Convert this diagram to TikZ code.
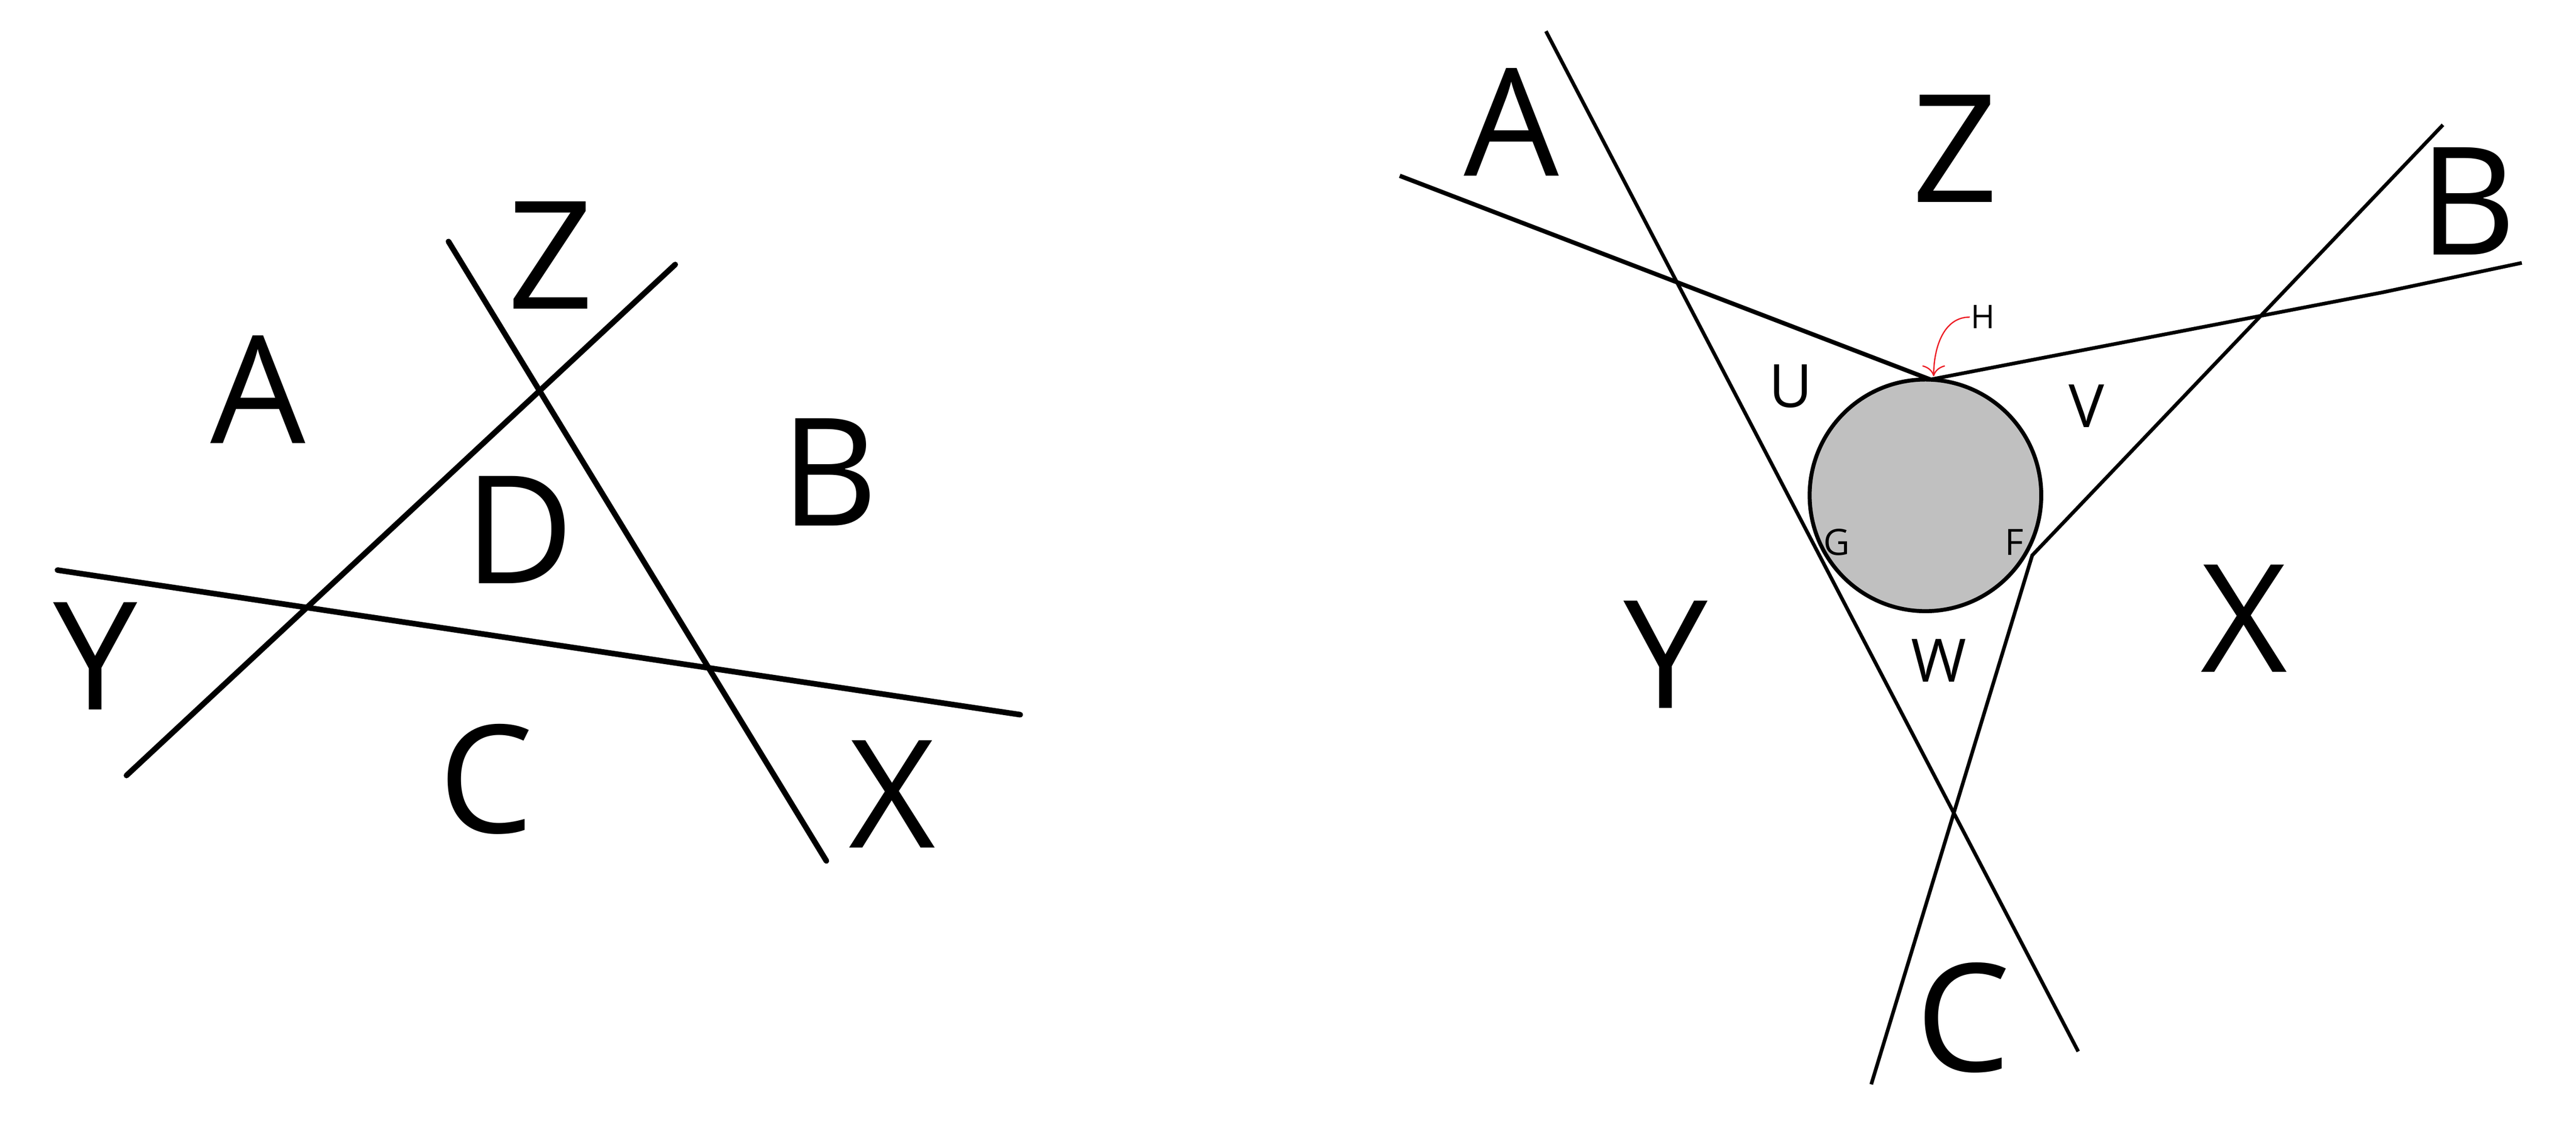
\documentclass[tikz,border=0pt]{standalone}
\usepackage{fontspec}
\setmainfont{Open Sans}
\usetikzlibrary{arrows.meta}
\definecolor{discgray}{RGB}{192,192,192}
\definecolor{arrowred}{RGB}{237,28,36}

\tikzset{
  big/.style={inner sep=0pt, anchor=base, font=\fontsize{83}{83}\selectfont},
  mid/.style={inner sep=0pt, anchor=base, font=\fontsize{33}{33}\selectfont},
  tiny/.style={inner sep=0pt, anchor=base, font=\fontsize{20}{20}\selectfont},
}

\begin{document}
\begin{tikzpicture}[x=0.3189mm, y=-0.3189mm]
\useasboundingbox (0,0) rectangle (1568,690);
% left: three lines
\draw[line width=3.1pt, line cap=round] (273,147) -- (503,524);
\draw[line width=3.1pt, line cap=round] (411,161) -- (77,472);
\draw[line width=3.1pt, line cap=round] (35,347) -- (621,435);
\node[big] (lz) at (335,188) {Z};
\node[big] (la) at (157,270) {A};
\node[big] (lb) at (505,320) {B};
\node[big] (ld) at (316,355) {D};
\node[big] (ly) at (58,432) {Y};
\node[big] (lc) at (296,507) {C};
\node[big] (lx) at (543,516) {X};
% right: disc and tangent lines
\coordinate (H) at (1175,231);
\coordinate (F) at (1237,338);
\filldraw[fill=discgray, line width=2.2pt] (1172,301.5) circle [radius=70.5];
\draw[line width=2pt] (941,19) -- (1265,640);
\draw[line width=2.4pt] (852,107) -- (H);
\draw[line width=2pt] (H) -- (1450,178) -- (1535,160);
\draw[line width=2pt] (1487,76) -- (F) -- (1139,660);
\node[big] (ra) at (920,107) {A};
\node[big] (rz) at (1190,123) {Z};
\node[big] (rb) at (1502,155) {B};
\node[big] (ry) at (1014,431) {Y};
\node[big] (rx) at (1366,409) {X};
\node[big] (rc) at (1195,652) {C};
\node[mid] (ru) at (1090,248) {U};
\node[mid] (rv) at (1270,260) {V};
\node[mid] (rw) at (1180,415) {W};
\node[tiny] (rg) at (1118,338) {G};
\node[tiny] (rf) at (1226,338) {F};
\node[inner sep=0pt, anchor=base, font=\fontsize{18}{18}\selectfont] (rh) at (1207,200) {H};
\draw[arrowred, line width=0.7pt, -{To[length=6pt]}]
  (1199,193) to[out=180, in=90] (1177,229);
\end{tikzpicture}
\end{document}
